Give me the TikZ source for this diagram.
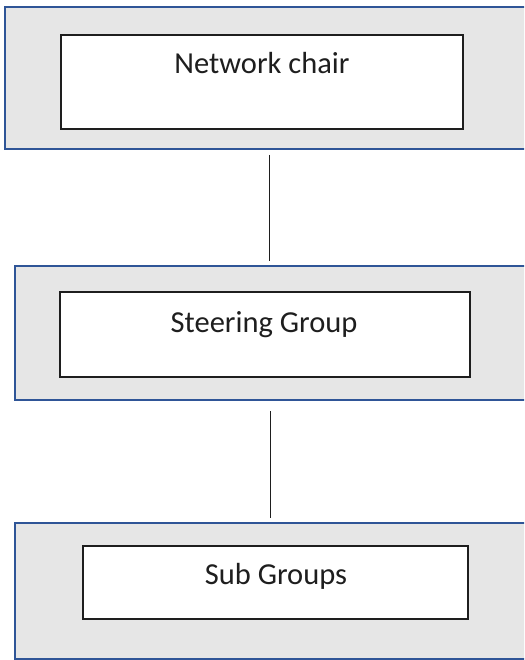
\documentclass[tikz,border=0pt]{standalone}
\usepackage{fontspec}
\setmainfont{Carlito}
\definecolor{outerblue}{RGB}{47,85,151}
\definecolor{panelgray}{RGB}{230,230,230}
\definecolor{inkgray}{RGB}{30,30,30}
\tikzset{
  panel/.style={draw=outerblue, line width=2.2pt, fill=panelgray, anchor=north west, inner sep=0pt, outer sep=0pt},
  card/.style={draw=inkgray, line width=1.3pt, fill=white, anchor=north west, inner sep=0pt, outer sep=0pt},
  caption/.style={anchor=base, inner sep=0pt, font=\fontsize{30.5}{36}\selectfont, text=inkgray},
  conn/.style={draw=inkgray, line width=1pt}
}
\begin{document}
\begin{tikzpicture}[x=1pt,y=-1pt]
\useasboundingbox (0,0) rectangle (524,660);
\clip (0,0) rectangle (524,660);
% panels
\node[panel, minimum width=540pt, minimum height=142pt] (p1) at (5,7) {};
\node[card, minimum width=402pt, minimum height=94pt] (c1) at (61,35) {};
\node[caption] (t1) at (262,74) {Network chair};

\node[panel, minimum width=530pt, minimum height=134pt] (p2) at (15,266) {};
\node[card, minimum width=410pt, minimum height=85pt] (c2) at (60,292) {};
\node[caption] (t2) at (264,332) {Steering Group};

\node[panel, minimum width=530pt, minimum height=136pt] (p3) at (15,523) {};
\node[card, minimum width=385pt, minimum height=73pt] (c3) at (83,546) {};
\node[caption] (t3) at (276,584) {Sub Groups};

% connectors
\coordinate (x1) at (269.5,0);
\coordinate (x2) at (270.5,0);
\draw[conn, shorten <=6pt, shorten >=5pt] (p1.south -| x1) -- (p2.north -| x1);
\draw[conn, shorten <=11pt, shorten >=5pt] (p2.south -| x2) -- (p3.north -| x2);
\end{tikzpicture}
\end{document}
